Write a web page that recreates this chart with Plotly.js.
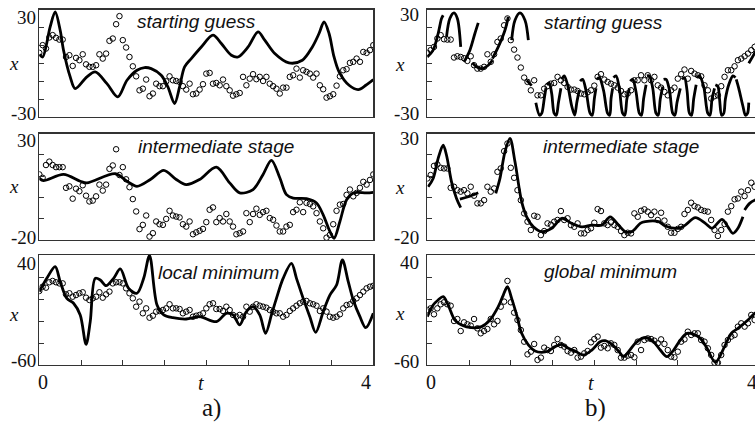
<!DOCTYPE html>
<html><head><meta charset="utf-8">
<script src="https://cdn.plot.ly/plotly-3.0.1.min.js"></script>
<style>html,body{margin:0;padding:0;overflow:hidden;background:#fff}#chart{width:765px;height:426px}</style>
</head><body><div id="chart"></div>
<script>
// observation times (shared by all panels)
const T_OBS = [0,0.04,0.08,0.12,0.16,0.2,0.24,0.28,0.32,0.36,
0.4,0.44,0.48,0.52,0.56,0.6,0.64,0.68,0.72,0.76,
0.8,0.84,0.88,0.92,0.96,1,1.04,1.08,1.12,1.16,
1.2,1.24,1.28,1.32,1.36,1.4,1.44,1.48,1.52,1.56,
1.6,1.64,1.68,1.72,1.76,1.8,1.84,1.88,1.92,1.96,
2,2.04,2.08,2.12,2.16,2.2,2.24,2.28,2.32,2.36,
2.4,2.44,2.48,2.52,2.56,2.6,2.64,2.68,2.72,2.76,
2.8,2.84,2.88,2.92,2.96,3,3.04,3.08,3.12,3.16,
3.2,3.24,3.28,3.32,3.36,3.4,3.44,3.48,3.52,3.56,
3.6,3.64,3.68,3.72,3.76,3.8,3.84,3.88,3.92,3.96,4];

// a) starting guess
const TL_OBS = [5.8,10.1,8.2,14.4,15.7,14.2,13.2,13.2,3.5,4.5,
-1.5,3.0,1.7,5.0,-0.6,-2.0,-2.0,-1.1,5.0,2.6,
5.4,12.5,13.8,21.8,26.3,12.9,8.8,3.5,-1.7,-7.3,
-15.1,-14.2,-9.1,-18.4,-16.9,-11.4,-12.8,-12.8,-10.1,-7.3,
-9.5,-9.9,-10.4,-12.8,-14.7,-11.4,-17.3,-16.9,-14.7,-11.7,
-5.8,-5.4,-11.4,-11.0,-12.3,-9.1,-12.8,-15.1,-18.1,-17.3,
-16.6,-7.6,-12.3,-8.6,-6.1,-8.9,-7.6,-9.9,-7.6,-11.4,
-12.8,-14.2,-16.9,-13.6,-13.6,-7.6,-6.7,-3.0,-8.0,-3.9,
-4.8,-5.8,-8.0,-5.8,-12.3,-14.5,-19.2,-18.4,-17.3,-12.5,
-7.3,-3.9,-3.3,0.2,0.8,2.6,0.8,6.3,5.8,7.3,10.1];
const TL_CT = [0,0.04,0.13,0.19,0.25,0.29,0.37,0.43,0.57,0.67,0.81,0.94,1.05,1.17,1.26,1.34,1.46,1.54,1.62,1.68,1.74,1.82,1.94,2.08,2.18,2.30,2.38,2.50,2.62,2.70,2.82,2.99,3.15,3.27,3.35,3.41,3.47,3.53,3.59,3.71,3.82,3.91,4.0];
const TL_CV = [5,3.5,20.3,28.7,18.4,7.3,-7.6,-14.2,-7.6,-4.8,-11.4,-18.8,-9.5,-3.9,-2.4,-3.0,-6.7,-13.2,-22.5,-13.2,-2.0,2.6,9.1,15.7,11.0,4.5,3.5,9.1,17.5,12.9,5.4,0.2,1.7,9.1,16.6,23.1,16.6,3.5,-4.8,-12.3,-14.7,-12.3,-9.1];

// b) starting guess
const TR_OBS = [5.8,7.3,9.1,13.8,15.7,13.4,13.2,13.2,3.2,3.9,
3.5,2.8,1.3,3.9,-1.1,-3.0,-3.0,-2.0,5.0,0.8,
5.0,11.9,13.8,21.2,25.0,12.9,7.6,3.2,-2.4,-8.0,
-10.4,-15.1,-9.5,-17.9,-17.9,-14.2,-12.8,-11.4,-11.0,-7.6,
-9.5,-11.0,-13.2,-14.7,-14.7,-15.5,-16.9,-17.3,-16.2,-15.1,
-12.5,-7.6,-6.1,-9.1,-10.4,-11.4,-12.3,-13.6,-15.5,-17.3,
-16.9,-15.1,-9.5,-9.5,-6.7,-9.5,-6.7,-9.5,-7.6,-12.3,
-13.6,-16.0,-17.9,-15.1,-13.6,-8.6,-6.1,-3.5,-8.6,-4.3,
-5.8,-6.7,-7.3,-12.3,-15.1,-19.7,-18.4,-17.9,-12.8,-7.6,
-3.9,-3.9,-1.7,1.7,2.6,3.9,5.4,7.3,9.1,11.0,11.9];
const TR_CT = [0,0.07,0.13,0.17,0.19,null,
0.23,0.27,0.32,0.36,0.40,null,
0.44,0.51,0.57,0.61,null,
0.54,0.59,0.65,0.73,0.78,null,
0.78,0.85,0.93,0.97,null,
1.01,1.05,1.11,1.17,1.21,null,
1.19,1.25,null,
1.30,1.345,1.37,1.40,1.42,null,
1.43,1.46,1.49,1.52,1.545,1.57,1.60,null,
1.61,1.64,1.68,1.73,1.765,1.79,1.82,null,
1.83,1.86,1.90,1.95,1.975,2.00,2.02,null,
2.03,2.06,2.11,2.16,2.185,2.20,2.22,null,
2.23,2.26,2.30,2.34,2.365,2.39,2.42,null,
2.43,2.46,2.50,2.54,2.565,2.59,2.62,null,
2.63,2.66,2.70,2.74,2.765,2.79,2.82,null,
2.83,2.86,2.90,2.94,2.965,2.99,3.03,null,
3.05,3.08,3.11,3.14,3.165,3.19,3.22,null,
3.23,3.26,3.31,3.36,3.385,3.41,3.44,null,
3.45,3.48,3.50,3.525,3.55,3.57,3.61,3.66,3.69,null,
3.70,3.73,3.78,3.81,3.835,3.85,null,
3.85,3.90,3.95,4.0];
const TR_CV = [3.5,7.3,16.6,24.9,26.8,null,
14.7,25,28.1,25,9.1,null,
0.8,7.3,16.6,22.5,null,
0.2,-2.0,-3.0,-1.1,1.7,null,
2.6,9.1,18.4,25.9,null,
12.9,24,28.1,24,12.9,null,
-9.5,-12.5,null,
-22,-29,-28,-20,-14,null,
-12,-11,-17,-28,-29,-22,-14,null,
-9,-7,-12,-24,-29,-22,-15,null,
-10,-9,-15,-28,-29,-20,-14,null,
-9,-8,-15,-28,-29,-20,-14,null,
-8,-7,-14,-28,-29,-20,-14,null,
-10,-9,-16,-28,-29,-20,-12,null,
-7,-7,-14,-28,-29,-20,-13,null,
-9,-9,-15,-28,-29,-22,-14,null,
-9,-8,-15,-28,-29,-20,-12,null,
-8,-7,-13,-28,-29,-20,-14,null,
-12,-13,-20,-29,-28,-20,-12,-7,-8,null,
-9,-14,-24,-29,-28,-22,null,
0,4,8,12];

// a) intermediate stage
const ML_OBS = [10.8,9.2,15.2,16.8,15.2,14.2,14.2,14.2,4.5,5.2,
-0.6,4.1,2.9,5.7,0.8,-1.9,-1.5,0.5,6.0,3.2,
6.0,13.4,15.0,22.6,10.5,14.2,8.5,4.8,-0.8,-6.6,
-14.9,-12.9,-8.5,-18.4,-16.8,-11.3,-12.6,-12.9,-10.1,-6.3,
-8.5,-9.0,-9.4,-12.6,-13.7,-11.3,-17.3,-16.4,-15.7,-14.8,
-11.6,-5.8,-4.7,-11.6,-9.7,-11.3,-7.8,-11.3,-13.7,-17.3,
-16.8,-16.0,-7.4,-11.6,-7.8,-5.3,-8.2,-6.9,-6.3,-9.7,
-10.5,-13.2,-16.0,-16.0,-13.7,-12.9,-6.9,-5.8,-2.3,-6.9,
-2.6,-3.1,-4.2,-7.4,-11.3,-14.5,-18.9,-17.6,-12.6,-6.3,
-3.4,-3.1,1.2,3.7,0.5,2.1,4.5,7.3,6.0,8.2,10.8];
const ML_CT = [0,0.05,0.29,0.49,0.57,0.91,1.05,1.17,1.33,1.49,1.64,1.76,1.92,2.12,2.28,2.40,2.56,2.68,2.78,2.88,2.96,3.04,3.20,3.32,3.40,3.48,3.53,3.60,3.68,3.76,3.92,4.0];
const ML_CV = [8.9,7.9,10.8,7.6,6.8,11.1,7.6,5.2,8.4,12.7,8.4,6.0,8.4,14.2,6.8,2.1,3.7,10.8,17.4,9.2,1.3,-0.3,-0.6,-2.6,-8.2,-16.0,-19.2,-11.3,-1.1,2.1,2.1,2.4];

// b) intermediate stage
const MR_OBS = [8.9,10.5,14.8,15.5,13.9,13.6,13.6,4.5,5.0,3.4,
2.7,3.4,1.9,5.0,0.8,-2.8,-2.8,-1.3,5.0,2.7,
4.2,12.0,13.6,21.7,25.3,13.9,9.2,3.4,-1.3,-7.5,
-11.4,-15.3,-8.6,-9.1,-17.7,-15.8,-12.2,-12.8,-11.4,-10.6,
-6.4,-10.6,-9.8,-13.0,-13.8,-12.2,-16.9,-16.9,-15.3,-14.5,
-11.9,-5.5,-6.4,-12.2,-13.0,-11.7,-13.0,-13.8,-15.8,-17.7,
-16.6,-16.9,-7.5,-9.1,-6.3,-5.6,-6.7,-8.3,-6.7,-10.6,
-7.2,-10.9,-13.8,-16.6,-16.6,-14.8,-13.8,-7.8,-5.9,-2.5,
-4.1,-4.7,-5.9,-6.4,-6.7,-10.6,-15.3,-18.1,-15.3,-12.5,
-6.7,-4.1,-0.9,-0.5,2.7,0.6,3.4,6.9,5.0,6.6,8.0];
const MR_CT = [0.01,0.07,0.13,0.19,0.23,0.29,0.35,0.40,null,
0.39,0.49,0.61,null,
0.82,0.87,0.93,0.99,1.05,1.13,1.19,1.27,1.37,1.49,1.61,1.73,1.85,1.97,2.09,2.19,2.29,2.37,2.45,2.55,2.61,2.77,2.85,3.01,3.09,3.21,3.33,3.41,3.53,3.60,3.66,3.72,3.78,null,
3.80,3.86,3.92,4.0];
const MR_CV = [5.0,8.9,18.3,24.5,19.8,7.3,-0.5,-4.8,null,
-0.8,0.3,2.2,null,
1.9,8.9,21.4,27.7,16.7,-2.0,-9.1,-13.8,-16.1,-14.5,-9.8,-12.2,-13.8,-13.0,-13.0,-9.1,-13.0,-16.1,-16.1,-12.2,-11.4,-11.4,-13.4,-14.5,-13.0,-9.5,-12.2,-14.5,-10.3,-13.8,-16.9,-14.5,-9.1,null,
-5.9,-2.8,-1.3,-0.5];

// a) local minimum
const BL_OBS = [7.3,11.2,10.3,15.2,16.4,15.2,14.2,14.2,4.2,5.2,
2.1,3.6,5.2,6.1,1.2,-0.9,0.6,2.1,6.1,1.2,
4.2,6.7,14.2,15.2,15.2,14.2,9.7,5.2,0.6,-7.0,
-2.4,-13.0,-8.5,-17.0,-15.2,-11.5,-10.9,-10.0,-8.5,-4.8,
-8.5,-8.5,-9.1,-13.0,-11.5,-10.0,-16.1,-15.2,-14.5,-13.0,
-8.5,-4.8,-3.9,-9.1,-9.1,-10.9,-7.0,-10.0,-14.5,-16.1,
-14.5,-16.1,-7.0,-11.5,-7.0,-4.8,-6.1,-7.0,-7.9,-10.0,
-11.5,-13.0,-13.0,-16.1,-14.5,-10.9,-8.5,-6.1,-3.9,-2.4,
-1.8,-3.9,-4.8,-6.1,-10.9,-8.5,-11.5,-16.1,-17.0,-16.1,
-13.9,-8.5,-5.5,-4.8,-1.8,0.6,3.6,6.7,9.7,11.2,12.0];
const BL_CT = [0,0.09,0.19,0.25,0.33,0.41,0.49,0.56,0.61,0.67,0.73,0.80,0.89,0.97,1.07,1.17,1.25,1.32,1.41,1.49,1.60,1.76,1.92,2.12,2.24,2.32,2.40,2.48,2.56,2.64,2.71,2.78,2.84,2.92,3.02,3.08,3.16,3.24,3.31,3.40,3.48,3.56,3.63,3.70,3.76,3.84,3.91,4.0];
const BL_CV = [6.7,18.8,29.4,15.8,0.6,-3.9,-14.5,-41.2,-20.6,18.8,17.3,12.1,18.8,27.3,9.7,5.2,18.8,39.4,-5.5,-14.5,-17.0,-18.2,-16.1,-20.6,-13.0,-14.5,-23.6,-11.5,-7.0,-14.5,-31.2,-14.5,0.6,18.8,32.4,18.8,0.6,-16.1,-30.3,-11.5,3.6,12.7,35.5,15.8,-0.9,-16.1,-26.1,-13.0];

// b) global minimum
const BR_OBS = [-10.0,-8.5,-13.9,-8.5,-4.8,-3.0,-4.8,-6.1,-20.0,-18.2,
-29.1,-21.2,-23.0,-24.2,-18.2,-26.7,-31.2,-29.1,-27.3,-18.2,
-23.0,-20.0,-7.0,-2.4,16.4,-3.0,-12.4,-19.1,-28.2,-38.8,
-50.3,-47.9,-40.9,-55.4,-53.3,-44.2,-46.4,-47.3,-41.8,-36.4,
-41.8,-43.3,-47.3,-48.8,-46.4,-53.3,-52.4,-49.4,-47.3,-39.4,
-36.4,-34.2,-44.2,-42.7,-44.8,-40.3,-41.8,-46.4,-53.3,-53.3,
-51.5,-50.9,-53.0,-38.8,-46.4,-37.3,-35.8,-36.4,-37.9,-40.3,
-36.7,-40.9,-46.4,-52.4,-53.0,-47.9,-38.8,-36.7,-29.7,-32.7,
-31.2,-31.2,-37.3,-38.8,-44.8,-50.9,-57.9,-57.9,-50.9,-41.8,
-37.3,-34.2,-32.7,-25.1,-22.1,-25.1,-22.1,-14.5,-19.1,-16.0,-14.0];
const BR_CT = [0,0.07,0.13,0.19,0.25,0.33,0.41,0.53,0.65,0.75,0.85,0.91,0.96,1.01,1.07,1.13,1.21,1.29,1.37,1.45,1.53,1.61,1.69,1.77,1.87,1.97,2.07,2.13,2.21,2.29,2.35,2.41,2.49,2.57,2.63,2.71,2.79,2.87,2.95,3.03,3.11,3.19,3.27,3.35,3.45,3.56,3.64,3.72,3.84,3.92,4.0];
const BR_CV = [-16.1,-5.5,-0.9,2.1,-5.5,-19.1,-23.6,-26.1,-25.1,-19.1,-7.0,3.6,11.2,0.6,-14.5,-31.2,-41.8,-47.3,-48.5,-47.3,-43.3,-41.2,-44.8,-47.3,-50.9,-46.4,-38.8,-37.9,-41.2,-47.3,-52.4,-47.9,-40.3,-35.8,-35.1,-38.8,-46.4,-52.4,-46.4,-37.3,-31.2,-32.1,-35.8,-44.8,-57.6,-43.3,-31.2,-26.7,-19.1,-13.0,-10.0];

const PANEL_TITLES = ["starting guess","starting guess","intermediate stage","intermediate stage","local minimum","global minimum"];
const Y_RANGES = [[-30,30],[-30,30],[-20,30],[-20,30],[-60,40],[-60,40]];
const Y_DTICK = [10,10,10,10,20,20];
const Y_TOP_LABELS = ["30","30","30","30","40","40"];
const Y_BOT_LABELS = ["-30","-30","-20","-20","-60","-60"];
const X_LABELS = ["0","4"];
const COL_LABELS = ["a)","b)"];

// ---- layout (pixel geometry) ----
const W = 765, H = 426;
const px = v => v / W, py = v => 1 - v / H;
const COLS = [[39.3,373.3],[427.3,761.3]];
const ROWS = [[9.5,117],[133.5,240],[255,365]];
const obs = [TL_OBS,TR_OBS,ML_OBS,MR_OBS,BL_OBS,BR_OBS];
const cts = [TL_CT,TR_CT,ML_CT,MR_CT,BL_CT,BR_CT];
const cvs = [TL_CV,TR_CV,ML_CV,MR_CV,BL_CV,BR_CV];

const data = [];
const layout = {width:W, height:H, margin:{l:0,r:0,t:0,b:0,pad:0}, showlegend:false,
  paper_bgcolor:'#fff', plot_bgcolor:'#fff', annotations:[]};
const serif = 'Liberation Serif';
const sans = 'Liberation Sans';
const ink = '#111';

const titlePos = [[197,21.7],[603,22.5],[216,146],[621,146],[218,272.5],[610,271]];
const yTopPos = [18,15,140,138,263,262.5];
const yBotPos = [114,114,237.5,238,360.5,361];
const xLabPos = [63,65,186,188,314.5,313];

for (let i = 0; i < 6; i++) {
  const col = i % 2, row = Math.floor(i / 2);
  const n = i === 0 ? '' : String(i + 1);
  const xa = 'x' + n, ya = 'y' + n;
  data.push({x:T_OBS, y:obs[i], xaxis:xa, yaxis:ya, mode:'markers', type:'scatter',
    marker:{symbol:'circle-open', size:5.5, color:'#000', line:{width:1, color:'#000'}}, hoverinfo:'skip'});
  data.push({x:cts[i], y:cvs[i], xaxis:xa, yaxis:ya, mode:'lines', type:'scatter', connectgaps:false,
    line:{color:'#000', width:2.8, shape:'spline', smoothing:0.9}, hoverinfo:'skip'});
  const bottom = row === 2;
  layout['xaxis' + n] = {domain:[px(COLS[col][0]), px(COLS[col][1])], range:[0,4], anchor:ya,
    showgrid:false, zeroline:false, showline:true, mirror:true, linecolor:'#333', linewidth:1.2,
    ticks: bottom ? 'inside' : '', ticklen:5, tickwidth:1, tickcolor:'#333', dtick:0.5, tick0:0,
    showticklabels:false, fixedrange:true};
  layout['yaxis' + n] = {domain:[py(ROWS[row][1]), py(ROWS[row][0])], range:Y_RANGES[i], anchor:xa,
    showgrid:false, zeroline:false, showline:true, mirror:true, linecolor:'#333', linewidth:1.2,
    ticks:'inside', ticklen:5, tickwidth:1, tickcolor:'#333', dtick:Y_DTICK[i], tick0:0,
    showticklabels:false, fixedrange:true};
  const A = layout.annotations;
  const yLabRight = col === 0 ? 38 : 420.5;
  A.push({xref:'paper', yref:'paper', x:px(titlePos[i][0]), y:py(titlePos[i][1]), xanchor:'center', yanchor:'middle',
    text:'<i>' + PANEL_TITLES[i] + '</i>', showarrow:false, font:{family:sans, size:19, color:ink}});
  A.push({xref:'paper', yref:'paper', x:px(yLabRight), y:py(yTopPos[i]), xanchor:'right', yanchor:'middle',
    text:Y_TOP_LABELS[i], showarrow:false, font:{family:serif, size:19, color:ink}});
  A.push({xref:'paper', yref:'paper', x:px(yLabRight), y:py(yBotPos[i]), xanchor:'right', yanchor:'middle',
    text:Y_BOT_LABELS[i], showarrow:false, font:{family:serif, size:19, color:ink}});
  A.push({xref:'paper', yref:'paper', x:px(col === 0 ? 14 : 399.5), y:py(xLabPos[i]), xanchor:'center', yanchor:'middle',
    text:'<i>x</i>', showarrow:false, font:{family:serif, size:19, color:ink}});
}
const A = layout.annotations;
const xl0 = [43.3, 431.3], xl4 = [366, 751.5], tpos = [201, 591], abpos = [211, 595];
for (let c = 0; c < 2; c++) {
  A.push({xref:'paper', yref:'paper', x:px(xl0[c]), y:py(382), xanchor:'center', yanchor:'middle',
    text:X_LABELS[0], showarrow:false, font:{family:serif, size:20, color:ink}});
  A.push({xref:'paper', yref:'paper', x:px(xl4[c]), y:py(382), xanchor:'center', yanchor:'middle',
    text:X_LABELS[1], showarrow:false, font:{family:serif, size:20, color:ink}});
  A.push({xref:'paper', yref:'paper', x:px(tpos[c]), y:py(383), xanchor:'center', yanchor:'middle',
    text:'<i>t</i>', showarrow:false, font:{family:serif, size:20, color:ink}});
  A.push({xref:'paper', yref:'paper', x:px(abpos[c]), y:py(408), xanchor:'center', yanchor:'middle',
    text:COL_LABELS[c], showarrow:false, font:{family:serif, size:25, color:ink}});
}
Plotly.newPlot('chart', data, layout, {staticPlot:true, displayModeBar:false});
</script></body></html>
